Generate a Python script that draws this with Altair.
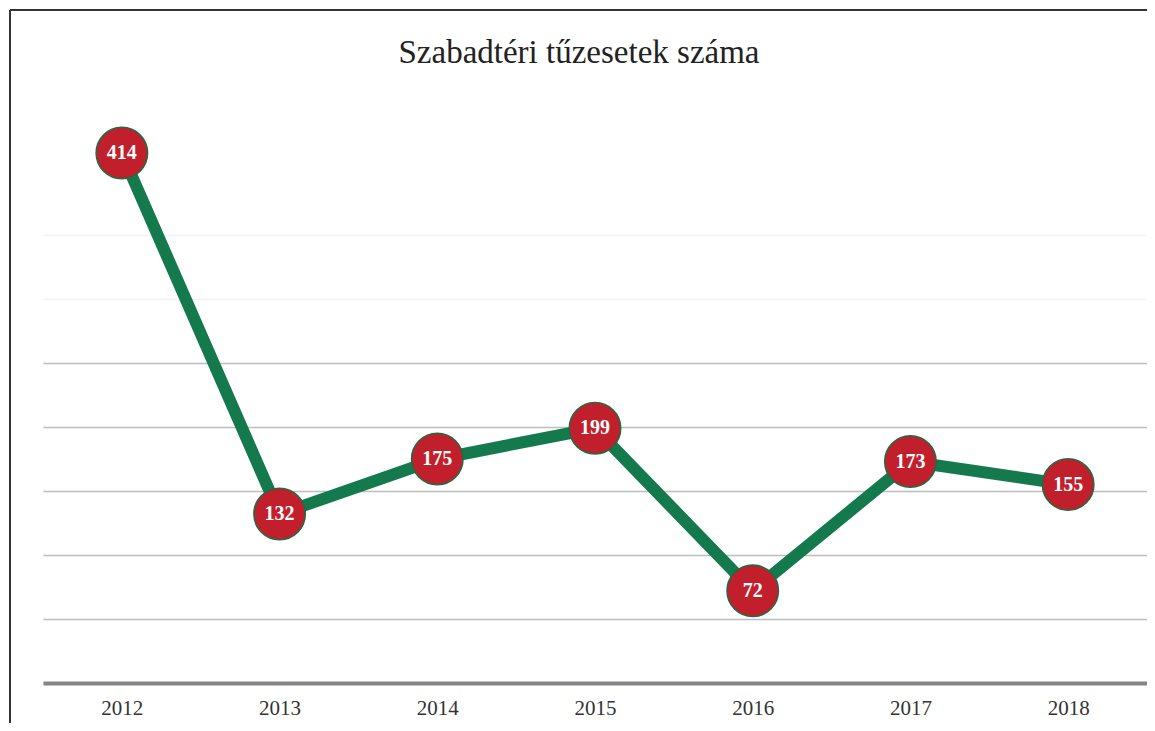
import altair as alt
import pandas as pd

years = ["2012", "2013", "2014", "2015", "2016", "2017", "2018"]
counts = [414, 132, 175, 199, 72, 173, 155]
grid_values = [0, 50, 100, 150, 200, 250, 300, 350]
title_text = "Szabadtéri tűzesetek száma"

df = pd.DataFrame({"year": years, "count": counts})

SERIF = "Liberation Serif"

x = alt.X("year:N", sort=years, title=None,
          scale=alt.Scale(paddingInner=0, paddingOuter=0.5),
          axis=alt.Axis(labelAngle=0, labelFont=SERIF, labelFontSize=21,
                        labelColor="#333333", labelPadding=14, ticks=False,
                        domainColor="#858585", domainWidth=4, grid=False))
y = alt.Y("count:Q", title=None,
          scale=alt.Scale(domain=[0, 450], nice=False, zero=True),
          axis=alt.Axis(values=grid_values, labels=False, ticks=False, domain=False,
                        grid=True, gridColor="#bdbdbd", gridWidth=1.3,
                        gridOpacity={"condition": {"test": "datum.value >= 300", "value": 0.2},
                                     "value": 1}))

base = alt.Chart(df)
one = base.transform_filter(alt.datum.year == "2012")

frame_top = one.mark_rule(color="#333333", strokeWidth=2).encode(
    x=alt.value(-33), x2=alt.value(1120), y=alt.value(-97))
frame_left = one.mark_rule(color="#333333", strokeWidth=2).encode(
    x=alt.value(-33), y=alt.value(-97), y2=alt.value(660))

title = one.mark_text(font=SERIF, fontSize=33, color="#222222", align="center",
                      baseline="alphabetic", text=title_text).encode(
    x=alt.value(536), y=alt.value(-44))

line = base.mark_line(color="#147a4e", strokeWidth=12, strokeJoin="miter").encode(x=x, y=y)

points = base.mark_point(shape="circle", filled=True, size=2650, fill="#c21f2c",
                         stroke="#1f6b44", strokeWidth=1.5, opacity=1).encode(x=x, y=y)

labels = base.mark_text(font=SERIF, fontSize=20, fontWeight="bold", color="white",
                        baseline="middle", align="center").encode(
    x=x, y=y, text=alt.Text("count:Q"))

chart = alt.layer(frame_top, frame_left, title, line, points, labels).properties(
    width=1104, height=576,
    autosize=alt.AutoSizeParams(type="none"),
    padding={"left": 35, "top": 99, "right": 0, "bottom": 40},
).configure(background="white").configure_view(strokeWidth=0, stroke="transparent")

chart.save("out.html", embed_options={"renderer": "svg", "actions": False})
